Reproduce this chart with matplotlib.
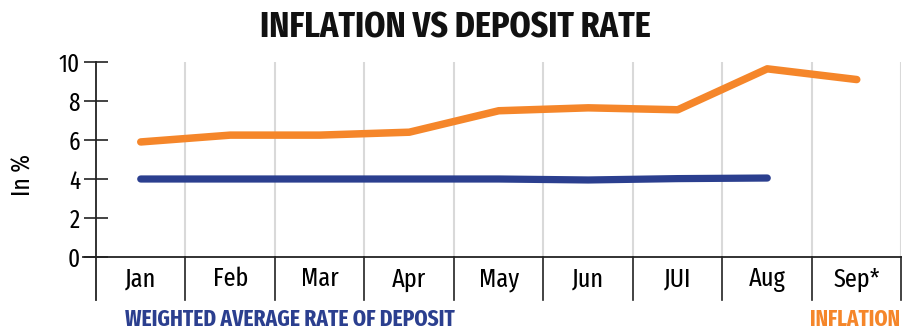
import numpy as np
import matplotlib
matplotlib.use("Agg")
import matplotlib.pyplot as plt
from matplotlib.transforms import blended_transform_factory

plt.rcParams['font.family'] = ['Fira Sans Extra Condensed', 'DejaVu Sans']

months = ['Jan', 'Feb', 'Mar', 'Apr', 'May', 'Jun', 'JUI', 'Aug', 'Sep*']
inflation = [5.9, 6.25, 6.25, 6.4, 7.5, 7.65, 7.55, 9.65, 9.1]
deposit_rate = [4.0, 4.0, 4.0, 4.0, 4.0, 3.95, 4.02, 4.05]

BLUE = '#2b3f8f'
ORANGE = '#f5862a'

fig = plt.figure(figsize=(9.03, 3.35), dpi=100)
ax = fig.add_axes([96 / 903, 1 - 257 / 335, (901.5 - 96) / 903, 195 / 335])

x = np.arange(len(months))
ax.plot(x, inflation, color=ORANGE, lw=5.4, solid_capstyle='round',
        solid_joinstyle='round', zorder=3)
ax.plot(x[:len(deposit_rate)], deposit_rate, color=BLUE, lw=5.2,
        solid_capstyle='round', solid_joinstyle='round', zorder=3)

ax.set_xlim(-0.5, len(months) - 0.5)
ax.set_ylim(0, 10)
for s in ax.spines.values():
    s.set_visible(False)

# category dividers: light grid above zero, dark ticks below it
trans = blended_transform_factory(ax.transData, ax.transAxes)
for b in np.arange(0.5, len(months) - 0.5 + 1e-9, 1.0):
    ax.plot([b, b], [0, 1], color='#d9d9d9', lw=1.5, transform=trans, zorder=1)
    ax.plot([b, b], [0, -0.22], color='#222222', lw=1.2, transform=trans,
            clip_on=False, zorder=2)

# y axis line and zero line
ax.plot([-0.5, -0.5], [1, -0.22], color='#222222', lw=1.3, transform=trans,
        clip_on=False, zorder=4)
ax.plot([-0.5 - 0.14, len(months) - 0.5], [0, 0], color='#222222', lw=1.3,
        transform=trans, clip_on=False, zorder=4)

ax.set_yticks([0, 2, 4, 6, 8, 10])
ax.tick_params(axis='y', direction='inout', length=17, width=1.2,
               color='#222222', labelsize=18, pad=3)
ax.set_xticks(x)
ax.set_xticklabels(months)
ax.tick_params(axis='x', length=0, labelsize=19, pad=7)
ax.set_ylabel('In %', fontsize=18.5)
ax.yaxis.set_label_coords(-60 / 805.5, 1 - (175 - 62) / 195)

fig.text(0.504, 1 - 38 / 335, 'INFLATION VS DEPOSIT RATE', ha='center',
         va='baseline', fontsize=26.5, fontweight='bold', color='#111111')
fig.text(125 / 903, 1 - 326 / 335, 'WEIGHTED AVERAGE RATE OF DEPOSIT',
         ha='left', va='baseline', fontsize=16.7, fontweight='bold', color=BLUE)
fig.text(900 / 903, 1 - 326 / 335, 'INFLATION', ha='right', va='baseline',
         fontsize=16.5, fontweight='bold', color=ORANGE)

fig.savefig('out.png', dpi=100)
